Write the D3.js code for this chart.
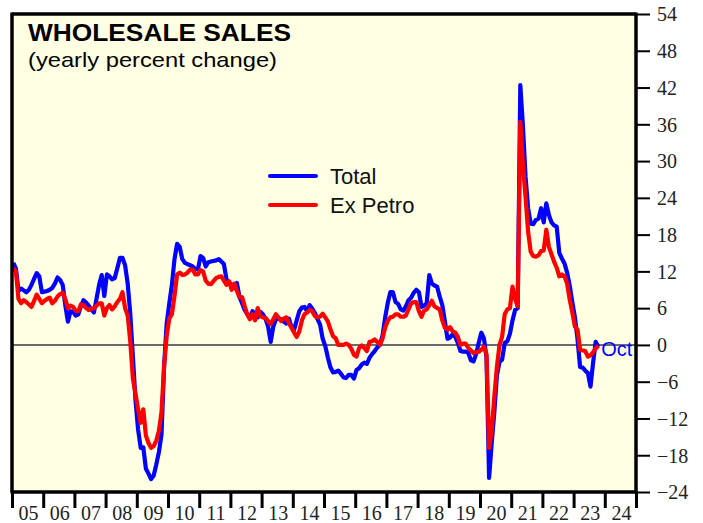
<!DOCTYPE html>
<html>
<head>
<meta charset="utf-8">
<script src="https://cdn.jsdelivr.net/npm/d3@7"></script>
<style>
  html, body { margin: 0; padding: 0; background: #fff; }
  svg { display: block; }
</style>
</head>
<body>
<div id="chart"></div>
<script>
// monthly yearly % change, Jan 2005 .. Oct 2023
const startYear = 2005;
const total = [
  13.4, 12.5, 8.8, 9.2, 8.9, 8.6, 9.0, 9.8, 10.8, 11.7, 11.2, 8.6,        // 2005
  8.7, 8.8, 9.0, 9.3, 10.0, 11.0, 10.6, 9.8, 6.5, 3.8, 5.5, 5.4,           // 2006
  4.8, 5.0, 6.3, 7.3, 6.9, 6.4, 5.8, 5.3, 7.5, 9.8, 11.4, 8.0,             // 2007
  11.5, 11.2, 10.7, 10.9, 12.5, 14.2, 14.2, 13.0, 10.0, 5.0, -2.0, -9.0,   // 2008
  -13.8, -16.8, -16.7, -20.2, -21.0, -21.9, -21.3, -19.5, -17.5, -14.6, -3.5, 3.5, // 2009
  6.8, 9.8, 14.0, 16.5, 16.0, 14.0, 13.4, 13.2, 13.0, 12.8, 12.4, 12.3,   // 2010
  14.5, 14.2, 12.8, 13.5, 13.6, 13.7, 13.8, 14.0, 13.6, 13.2, 10.7, 10.2, // 2011
  9.8, 9.3, 10.1, 7.8, 6.8, 5.7, 5.0, 4.4, 5.5, 5.0, 4.5, 5.4,             // 2012
  5.0, 4.3, 3.0, 0.5, 3.0, 4.2, 4.3, 4.2, 3.8, 3.5, 4.3, 2.9,              // 2013
  2.5, 4.0, 5.5, 6.1, 6.2, 5.5, 6.5, 5.9, 5.2, 4.2, 3.3, 1.0,              // 2014
  -0.2, -2.1, -3.7, -4.5, -4.4, -4.2, -4.7, -5.3, -5.4, -4.9, -4.9, -5.5,  // 2015
  -4.1, -3.8, -3.2, -2.9, -3.1, -2.1, -1.5, -1.0, -0.4, 0.0, 1.5, 4.4,     // 2016
  6.8, 8.6, 8.6, 7.0, 6.7, 5.8, 5.6, 6.3, 7.3, 7.7, 8.5, 9.0,              // 2017
  8.6, 6.2, 6.4, 6.8, 11.4, 10.0, 9.7, 9.5, 7.9, 6.5, 3.8, 1.0,            // 2018
  1.2, 1.8, 1.3, 0.3, -1.0, -1.1, -1.1, -1.3, -2.5, -2.7, -1.5, 0.3,       // 2019
  2.0, 1.1, -2.0, -21.7, -16.0, -11.0, -5.0, -2.8, -2.4, 0.3, 0.6, 1.8,    // 2020
  4.0, 5.7, 6.0, 42.4, 35.8, 27.5, 22.3, 19.8, 19.7, 20.4, 20.6, 22.3,     // 2021
  20.0, 23.1, 21.2, 20.0, 19.5, 19.3, 15.0, 14.1, 13.3, 11.8, 9.7, 7.0,    // 2022
  4.5, 1.0, -3.6, -3.7, -4.2, -4.6, -6.8, -2.9, 0.5, -0.3                  // 2023
];
const exPetro = [
  12.5, 12.0, 7.5, 6.8, 7.3, 7.0, 6.6, 6.2, 7.2, 8.2, 7.5, 6.8,            // 2005
  7.2, 7.5, 7.7, 6.8, 7.2, 7.9, 8.3, 8.5, 7.5, 6.0, 6.4, 6.2,              // 2006
  5.6, 5.5, 6.6, 6.5, 6.0, 5.7, 5.9, 6.0, 6.4, 6.8, 6.8, 4.8,              // 2007
  6.0, 6.5, 5.8, 6.3, 7.0, 7.5, 8.6, 6.0, 4.8, 0.5, -5.5, -8.0,            // 2008
  -10.5, -12.7, -10.5, -14.8, -16.0, -16.8, -16.5, -15.6, -14.0, -11.0, -3.5, 1.5, // 2009
  4.3, 5.0, 8.0, 11.5, 11.8, 11.4, 11.5, 11.8, 12.3, 12.3, 11.5, 11.5,    // 2010
  12.2, 12.0, 10.5, 10.0, 9.9, 10.4, 10.9, 11.1, 11.2, 10.5, 9.8, 10.4,   // 2011
  9.0, 10.0, 8.8, 7.8, 7.8, 6.3, 5.0, 4.2, 5.0, 4.0, 6.0, 4.7,             // 2012
  4.5, 4.4, 3.9, 3.4, 4.2, 5.0, 4.5, 3.9, 4.3, 4.5, 3.5, 2.8,              // 2013
  2.0, 1.3, 2.2, 4.0, 5.0, 5.3, 5.7, 5.5, 4.7, 4.5, 4.6, 5.1,              // 2014
  4.5, 3.8, 2.5, 1.4, 1.1, 0.0, 0.0, 0.0, 0.2, 0.0, -0.6, -1.6,            // 2015
  -1.9, -0.5, -0.1, -0.5, -1.0, 0.5, 0.6, 0.9, 0.5, 0.0, 1.0, 2.8,         // 2016
  3.9, 4.5, 4.6, 5.0, 5.0, 4.6, 4.6, 4.8, 5.8, 6.8, 7.0, 7.0,              // 2017
  5.5, 4.6, 5.6, 5.8, 6.5, 7.2, 6.3, 6.0, 5.8, 4.0, 2.8, 2.5,              // 2018
  2.9, 2.2, 2.0, 1.3, 0.0, 0.2, 0.2, -0.5, -0.9, -1.3, -1.2, -1.1,         // 2019
  -0.8, -0.3, -1.5, -16.8, -14.0, -8.5, -3.6, 0.0, 1.3, 5.0, 5.8, 6.0,     // 2020
  9.5, 7.5, 6.3, 36.4, 29.5, 24.2, 18.5, 15.2, 14.5, 14.4, 14.6, 15.3,     // 2021
  15.4, 18.8, 16.0, 14.8, 13.6, 12.6, 11.2, 11.5, 11.2, 10.0, 7.4, 5.3,    // 2022
  3.0, 2.5, -0.8, -0.9, -1.0, -1.9, -1.7, -1.2, -0.6, -0.1                 // 2023
];
const yTicks = [54, 48, 42, 36, 30, 24, 18, 12, 6, 0, -6, -12, -18, -24];
const yearLabels = ["05", "06", "07", "08", "09", "10", "11", "12", "13", "14",
  "15", "16", "17", "18", "19", "20", "21", "22", "23", "24"];
const seriesNames = ["Total", "Ex Petro"];
const seriesColors = ["#0000ff", "#ff0000"];
const lastLabel = "Oct";

const width = 703;
const height = 523;
const plot = { left: 12, right: 636, top: 14, bottom: 492 };
const serif = '"Liberation Serif", "Times New Roman", Times, serif';
const sans = '"Liberation Sans", Arial, Helvetica, sans-serif';

const svg = d3.select("#chart").append("svg")
  .attr("width", width)
  .attr("height", height);

const x = d3.scaleLinear().domain([2005, 2025]).range([plot.left, plot.right]);
const y = d3.scaleLinear().domain([-24, 54]).range([plot.bottom, plot.top]);

svg.append("rect")
  .attr("x", plot.left)
  .attr("y", plot.top)
  .attr("width", plot.right - plot.left)
  .attr("height", plot.bottom - plot.top)
  .attr("fill", "#ffffe4");

// zero line
svg.append("line")
  .attr("x1", plot.left)
  .attr("x2", plot.right)
  .attr("y1", y(0))
  .attr("y2", y(0))
  .attr("stroke", "#6b6b6b")
  .attr("stroke-width", 2);

const toPoints = values => values.map((v, i) => ({ date: startYear + (i + 0.5) / 12, value: v }));
const line = d3.line().x(d => x(d.date)).y(d => y(d.value));

[total, exPetro].forEach((values, i) => {
  svg.append("path")
    .datum(toPoints(values))
    .attr("fill", "none")
    .attr("stroke", seriesColors[i])
    .attr("stroke-width", 4.2)
    .attr("stroke-linejoin", "round")
    .attr("d", line);
});

// last-month label
const lastPoint = toPoints(total)[total.length - 1];
svg.append("text")
  .style("font-family", sans)
  .attr("x", x(lastPoint.date) + 3)
  .attr("y", y(0) + 11)
  .attr("font-size", 20)
  .attr("fill", "#0000ff")
  .text(lastLabel);

// frame
svg.append("line").attr("x1", plot.left).attr("x2", plot.right).attr("y1", plot.top).attr("y2", plot.top)
  .attr("stroke", "#000").attr("stroke-width", 3.5);
svg.append("line").attr("x1", plot.left).attr("x2", plot.left).attr("y1", plot.top - 1.5).attr("y2", plot.bottom)
  .attr("stroke", "#000").attr("stroke-width", 3.5);

// right axis
const yAxis = svg.append("g")
  .attr("transform", `translate(${plot.right},0)`)
  .call(d3.axisRight(y).tickValues(yTicks).tickSize(14).tickPadding(7).tickFormat(d3.format("d")));
yAxis.select(".domain").attr("stroke-width", 3.5).attr("d", `M0,${plot.top - 1.5}V${plot.bottom + 1.5}`);
yAxis.selectAll(".tick line").attr("stroke-width", 2);
yAxis.selectAll(".tick text")
  .style("font-family", serif)
  .style("font-size", "20px")
  .attr("fill", "#222")
  .attr("dy", "0.34em");

// bottom axis
const xAxis = svg.append("g")
  .attr("transform", `translate(0,${plot.bottom})`)
  .call(d3.axisBottom(x).tickValues(d3.range(2005, 2026)).tickSize(16).tickFormat(""));
xAxis.select(".domain").attr("stroke-width", 3.5).attr("d", `M${plot.left - 1.5},0H${plot.right + 1.5}`);
xAxis.selectAll(".tick line").attr("stroke-width", 3);

svg.append("g").selectAll("text")
  .data(yearLabels)
  .join("text")
  .style("font-family", serif)
  .style("font-size", "20px")
  .attr("fill", "#222")
  .attr("text-anchor", "middle")
  .attr("x", (d, i) => x(2005 + i + 0.5) + 1)
  .attr("y", plot.bottom + 28)
  .text(d => d);

// titles
svg.append("text")
  .style("font-family", sans)
  .attr("x", 28)
  .attr("y", 41)
  .attr("font-size", 24)
  .attr("font-weight", "bold")
  .attr("textLength", 263)
  .attr("lengthAdjust", "spacingAndGlyphs")
  .text("WHOLESALE SALES");

svg.append("text")
  .style("font-family", sans)
  .attr("x", 28)
  .attr("y", 67)
  .attr("font-size", 21)
  .attr("textLength", 249)
  .attr("lengthAdjust", "spacingAndGlyphs")
  .text("(yearly percent change)");

// legend
const legend = svg.append("g").selectAll("g")
  .data(seriesNames)
  .join("g")
  .attr("transform", (d, i) => `translate(270,${176 + i * 29})`);
legend.append("line")
  .attr("x1", 0).attr("x2", 46)
  .attr("stroke", (d, i) => seriesColors[i])
  .attr("stroke-width", 4)
  .attr("stroke-linecap", "round");
legend.append("text")
  .style("font-family", sans)
  .attr("x", 60)
  .attr("y", 8)
  .attr("font-size", 22)
  .attr("fill", "#111")
  .text(d => d);
</script>
</body>
</html>
